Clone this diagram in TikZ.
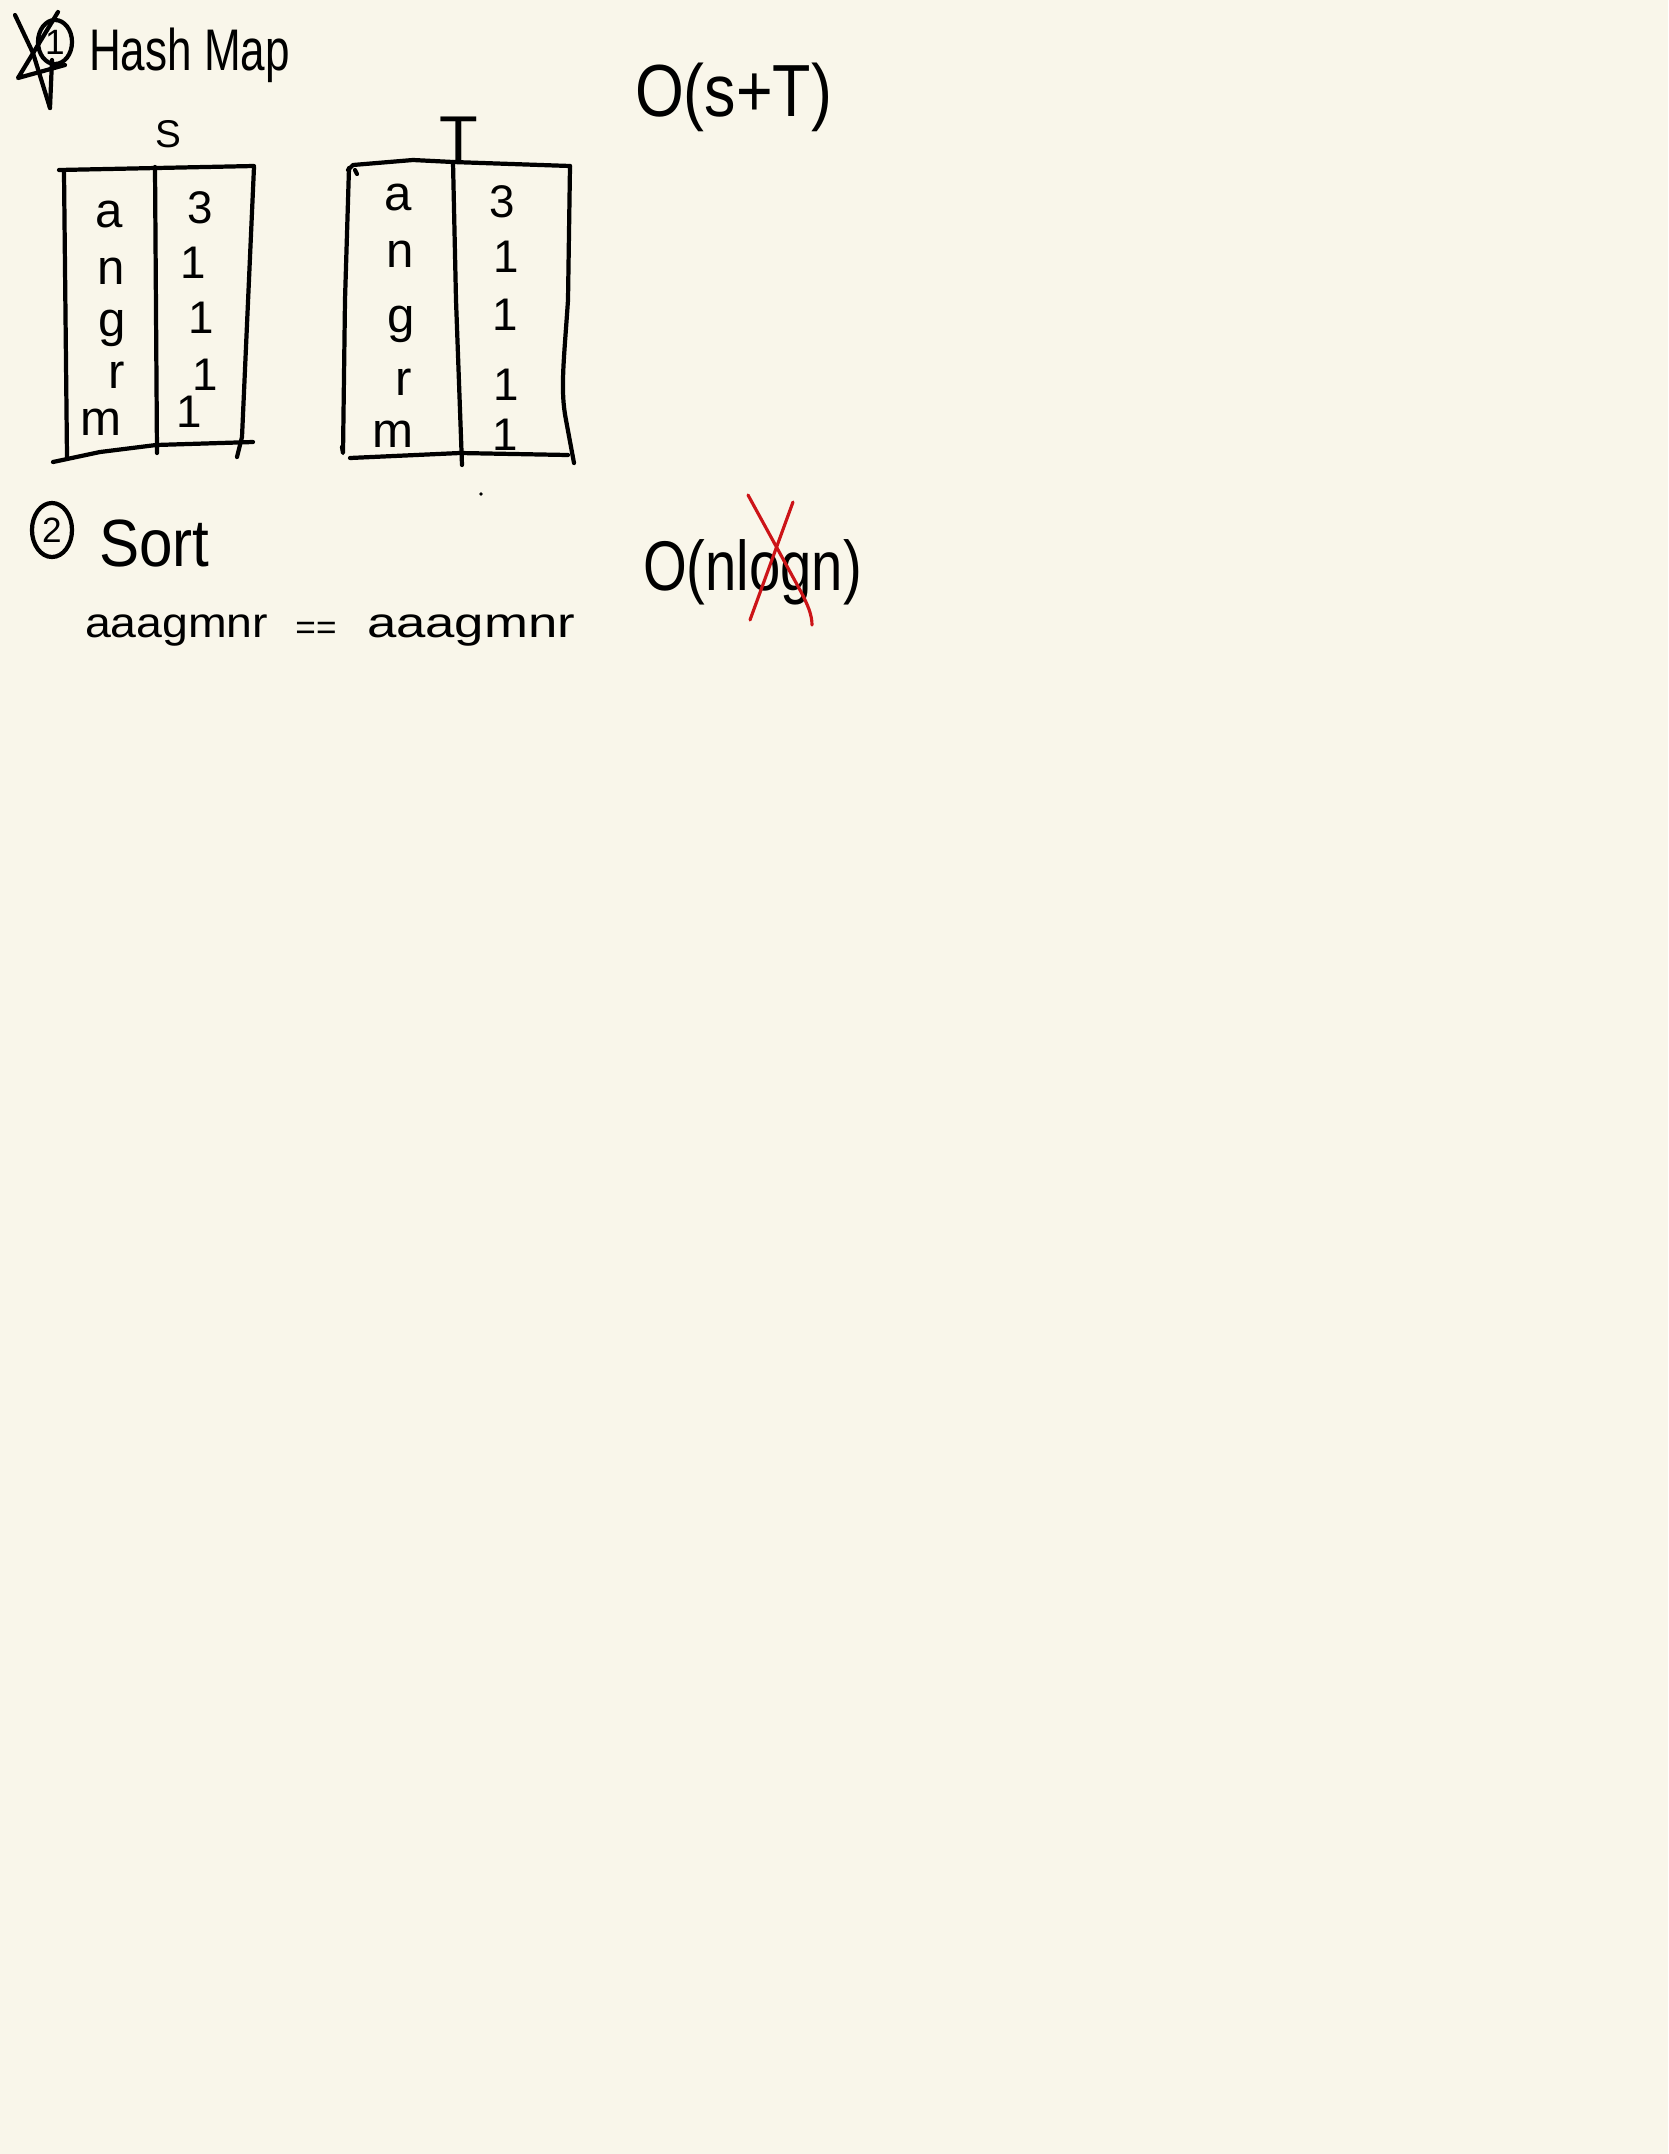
\documentclass[tikz,border=0pt]{standalone}
\usepackage{fontspec}
\setmainfont{Liberation Sans}
\usetikzlibrary{shapes.geometric}
\definecolor{paper}{RGB}{249,246,234}
\definecolor{inkred}{RGB}{204,20,24}

\begin{document}
\begin{tikzpicture}[x=0.01cm,y=-0.01cm,
  ink/.style={line width=1.2pt, line cap=round, line join=round},
  redink/.style={line width=0.9pt, line cap=round, draw=inkred},
  hand/.style={inner sep=0pt, outer sep=0pt},
  cell/.style={hand, anchor=base, font=\fontsize{14}{15}\selectfont},
  count/.style={hand, anchor=base, font=\fontsize{13}{14}\selectfont}]

\fill[paper] (0,0) rectangle (1668,2154);

\draw[ink] (15,15) -- (33,53) -- (50,108);
\draw[ink] (52,60) -- (50,108);
\draw[ink] (58,12) -- (18,78) -- (65,65);

\node[ellipse, draw, ink, minimum width=0.34cm, minimum height=0.44cm, inner sep=0pt, font=\fontsize{10}{12}\selectfont] (numA) at (55,42) {1};

\node[hand, anchor=base west, xscale=0.75, font=\fontsize{16.7}{20}\selectfont] (headA) at (89,70) {Hash Map};

\node[hand, anchor=base west, xscale=0.85, font=\fontsize{21}{25}\selectfont] (costA) at (635,116) {O(s+T)};

\node[hand, anchor=base, font=\fontsize{11}{13}\selectfont] (labS) at (168,147) {S};

\draw[ink] (59,170) -- (254,166);
\draw[ink] (64,172) -- (67,457);
\draw[ink] (155,167) -- (157,453);
\draw[ink] (254,167) -- (242,437) -- (237,457);
\draw[ink] (53,462) -- (100,452) -- (156,445) -- (253,442);

\node[cell] (sA) at (109,227) {a};
\node[cell] (sN) at (111,284) {n};
\node[cell] (sG) at (112,336) {g};
\node[cell] (sR) at (117,388) {r};
\node[cell] (sM) at (101,435) {m};

\node[count] (sA1) at (200,223) {3};
\node[count] (sN1) at (193,278) {1};
\node[count] (sG1) at (201,333) {1};
\node[count] (sR1) at (205,390) {1};
\node[count] (sM1) at (189,427) {1};

\node[hand, anchor=base, font=\fontsize{18}{21}\selectfont] (labT) at (459,160) {T};

\draw[ink] (348,170) -- (353,165) -- (413,160) -- (453,162) -- (570,166);
\draw[ink] (349,168) -- (345,300) -- (343,453) -- (342,447);
\draw[ink] (453,162) -- (456,300) -- (462,465);
\draw[ink] (570,166) -- (568,300) .. controls (564,360) and (560,390) .. (566,420) -- (574,463);
\draw[ink] (350,458) -- (460,453) -- (568,455);
\draw[ink] (355,170) -- (357,174);

\node[cell] (tA) at (398,210) {a};
\node[cell] (tN) at (400,267) {n};
\node[cell] (tG) at (401,332) {g};
\node[cell] (tR) at (404,395) {r};
\node[cell] (tM) at (393,447) {m};

\node[count] (tA1) at (502,217) {3};
\node[count] (tN1) at (506,272) {1};
\node[count] (tG1) at (505,330) {1};
\node[count] (tR1) at (506,400) {1};
\node[count] (tM1) at (505,450) {1};

\fill (481,494) circle (1.8);

\node[ellipse, draw, ink, minimum width=0.40cm, minimum height=0.54cm, inner sep=0pt, font=\fontsize{10}{12}\selectfont] (numB) at (52,530) {2};

\node[hand, anchor=base west, xscale=0.9, font=\fontsize{19}{23}\selectfont] (headB) at (99,566) {Sort};

\node[hand, anchor=base west, xscale=0.8, font=\fontsize{20}{24}\selectfont] (costB) at (643,590) {O(nlogn)};

\draw[redink] (748,495) -- (800,590) .. controls (808,605) and (812,615) .. (812,625);
\draw[redink] (793,502) -- (750,620);

\node[hand, anchor=base west, xscale=1.1, font=\fontsize{12}{14}\selectfont] (sortS) at (85,637) {aaagmnr};
\node[hand, anchor=base, font=\fontsize{10}{12}\selectfont] (eq) at (316,639) {==};
\node[hand, anchor=base west, xscale=1.25, font=\fontsize{12}{14}\selectfont] (sortT) at (367,637) {aaagmnr};

\end{tikzpicture}
\end{document}
